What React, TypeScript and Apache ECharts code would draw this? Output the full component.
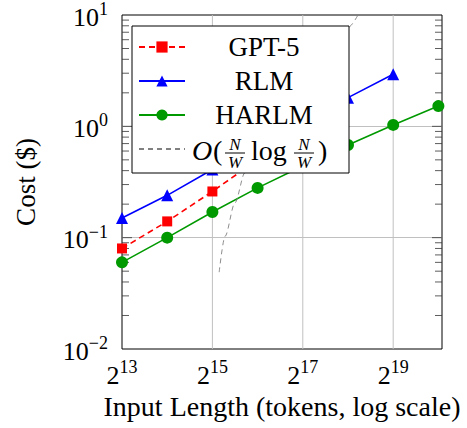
import React, { useEffect, useRef } from 'react';
import * as echarts from 'echarts';

const FONT = '"Liberation Serif", "Times New Roman", serif';

// x values are log2(input length in tokens)
const xExponents = [13, 14, 15, 16, 17, 18, 19, 20];
const gpt5Cost = [0.08, 0.14, 0.26, 0.5];
const rlmCost = [0.15, 0.24, 0.41, 0.66, 1.1, 1.81, 2.94];
const harlmCost = [0.06, 0.1, 0.17, 0.28, 0.44, 0.68, 1.03, 1.52];
// reference curve O(N/W log N/W)
const refCurveX = [15.15, 15.28, 15.5, 15.72, 16, 16.5, 17, 17.5, 18, 18.25];
const refCurveCost = [0.049, 0.103, 0.206, 0.383, 0.64, 1.35, 2.6, 4.5, 7.7, 10.5];

const xTickLabelExponents = [13, 15, 17, 19];
const xGridExponents = [15, 17, 19];
const yMajorTicks = [0.1, 1];
const yMinorTicks = [
  0.02, 0.03, 0.04, 0.05, 0.06, 0.07, 0.08, 0.09,
  0.2, 0.3, 0.4, 0.5, 0.6, 0.7, 0.8, 0.9,
  2, 3, 4, 5, 6, 7, 8, 9,
];
const seriesNames = ['GPT-5', 'RLM', 'HARLM', 'O(N/W log N/W)'];

const X_MIN = 13;
const X_MAX = 20.08;
const Y_MIN = 0.01;
const Y_MAX = 10;

const pts = (xs: number[], ys: number[]) => ys.map((y, i) => [xs[i], y]);

const supRich = {
  b: { fontFamily: FONT, fontSize: 26, lineHeight: 30, color: '#000', verticalAlign: 'bottom' },
  s: { fontFamily: FONT, fontSize: 18, lineHeight: 16, color: '#000', verticalAlign: 'top' },
};

const mathText = (text: string, x: number, y: number, size: number, italic: boolean, align = 'left') => ({
  type: 'text',
  z: 100,
  x,
  y,
  style: {
    text,
    fill: '#000',
    fontFamily: FONT,
    fontSize: size,
    lineHeight: size,
    fontStyle: italic ? 'italic' : 'normal',
    align,
    verticalAlign: 'middle',
  },
});

const fracBar = (x1: number, x2: number, y: number) => ({
  type: 'line',
  z: 100,
  shape: { x1, y1: y, x2, y2: y },
  style: { stroke: '#000', lineWidth: 1 },
});

export default function App() {
  const ref = useRef<HTMLDivElement>(null);
  useEffect(() => {
    const chart = echarts.init(ref.current!, null, { renderer: 'svg' });
    const option: any = {
      animation: false,
      backgroundColor: '#fff',
      grid: {
        left: 122,
        right: 25,
        top: 15,
        bottom: 79,
        show: true,
        borderColor: '#000',
        borderWidth: 1,
        backgroundColor: 'transparent',
      },
      xAxis: {
        type: 'value',
        min: X_MIN,
        max: X_MAX,
        interval: 1,
        axisLine: { show: false },
        axisTick: { show: false },
        splitLine: { show: false },
        axisLabel: {
          margin: 9,
          showMaxLabel: false,
          formatter: (v: number) => (xTickLabelExponents.includes(v) ? `{b|2}{s|${v}}` : ''),
          rich: supRich,
        },
        name: 'Input Length (tokens, log scale)',
        nameLocation: 'middle',
        nameGap: 43,
        nameTextStyle: { fontFamily: FONT, fontSize: 28, color: '#000' },
      },
      yAxis: {
        type: 'log',
        logBase: 10,
        min: Y_MIN,
        max: Y_MAX,
        axisLine: { show: false },
        axisTick: { show: false },
        splitLine: {
          show: true,
          showMinLine: false,
          showMaxLine: false,
          lineStyle: { color: '#c0c0c0', width: 1 },
        },
        axisLabel: {
          margin: 14,
          formatter: (v: number) => {
            const e = Math.round(Math.log10(v));
            return `{b|10}{s|${e < 0 ? '\u2212' + -e : e}}`;
          },
          rich: supRich,
        },
        name: 'Cost ($)',
        nameLocation: 'middle',
        nameGap: 83,
        nameTextStyle: { fontFamily: FONT, fontSize: 27, color: '#000' },
      },
      legend: {
        orient: 'vertical',
        left: 132,
        top: 26,
        z: 10,
        padding: [5, 11, 8, 6],
        itemGap: 2,
        itemWidth: 46,
        itemHeight: 14,
        selectedMode: false,
        backgroundColor: '#fff',
        borderColor: '#000',
        borderWidth: 1,
        borderRadius: 0,
        data: [
          seriesNames[0],
          seriesNames[1],
          seriesNames[2],
          { name: seriesNames[3], itemStyle: { opacity: 0 } },
        ],
        formatter: (name: string) => (name === seriesNames[3] ? '{m| }' : `{c|${name}}`),
        textStyle: {
          fontFamily: FONT,
          fontSize: 27,
          color: '#000',
          rich: {
            c: { fontFamily: FONT, fontSize: 27, color: '#000', width: 148, height: 32, lineHeight: 32, align: 'center' },
            m: { fontFamily: FONT, fontSize: 27, width: 148, height: 32, lineHeight: 32 },
          },
        },
      },
      graphic: [
        mathText('O', 192, 150, 28, true),
        mathText('(', 213, 150, 28, false),
        mathText('N', 235, 144, 17, true, 'center'),
        fracBar(225, 245, 153),
        mathText('W', 235, 162, 17, true, 'center'),
        mathText('log', 251, 150, 28, false),
        mathText('N', 304, 144, 17, true, 'center'),
        fracBar(294, 314, 153),
        mathText('W', 304, 162, 17, true, 'center'),
        mathText(')', 318, 150, 28, false),
      ],
      series: [
        {
          type: 'custom',
          name: 'xgrid',
          silent: true,
          z: 1,
          data: xGridExponents.map((v) => [v, 1]),
          encode: { x: 0, y: 1 },
          renderItem: (_p: any, api: any) => {
            const v = api.value(0);
            const a = api.coord([v, Y_MIN]);
            const b = api.coord([v, Y_MAX]);
            return {
              type: 'line',
              shape: { x1: a[0], y1: a[1], x2: b[0], y2: b[1] },
              style: { stroke: '#c0c0c0', lineWidth: 1 },
            };
          },
        },
        {
          type: 'custom',
          name: 'yticks',
          silent: true,
          z: 3,
          data: [
            ...yMinorTicks.map((v) => [X_MIN, v, 7]),
            ...yMajorTicks.map((v) => [X_MIN, v, 10]),
          ],
          encode: { x: 0, y: 1 },
          renderItem: (_p: any, api: any) => {
            const v = api.value(1);
            const len = api.value(2);
            const l = api.coord([X_MIN, v]);
            const r = api.coord([X_MAX, v]);
            const st = { stroke: '#333', lineWidth: 0.8 };
            return {
              type: 'group',
              children: [
                { type: 'line', shape: { x1: l[0], y1: l[1], x2: l[0] + len, y2: l[1] }, style: st },
                { type: 'line', shape: { x1: r[0] - len, y1: r[1], x2: r[0], y2: r[1] }, style: st },
              ],
            };
          },
        },
        {
          type: 'line',
          name: seriesNames[0],
          data: pts(xExponents, gpt5Cost),
          symbol: 'rect',
          symbolSize: 10,
          itemStyle: { color: '#ff0000' },
          lineStyle: { color: '#ff0000', width: 1.6, type: [6, 4] },
        },
        {
          type: 'line',
          name: seriesNames[1],
          data: pts(xExponents, rlmCost),
          symbol: 'triangle',
          symbolSize: 12,
          itemStyle: { color: '#0000ff' },
          lineStyle: { color: '#0000ff', width: 1.6 },
        },
        {
          type: 'line',
          name: seriesNames[2],
          data: pts(xExponents, harlmCost),
          symbol: 'circle',
          symbolSize: 12,
          itemStyle: { color: '#009900' },
          lineStyle: { color: '#009900', width: 1.6 },
        },
        {
          type: 'line',
          name: seriesNames[3],
          data: pts(refCurveX, refCurveCost),
          symbol: 'none',
          smooth: 0.3,
          smoothMonotone: 'x',
          itemStyle: { color: '#808080' },
          lineStyle: { color: '#808080', width: 0.9, type: [5, 4] },
        },
      ],
    };
    chart.setOption(option);
    return () => chart.dispose();
  }, []);
  return (
    <div
      ref={ref}
      style={{ position: 'fixed', left: 0, top: 0, width: 467, height: 428, background: '#fff' }}
    />
  );
}
